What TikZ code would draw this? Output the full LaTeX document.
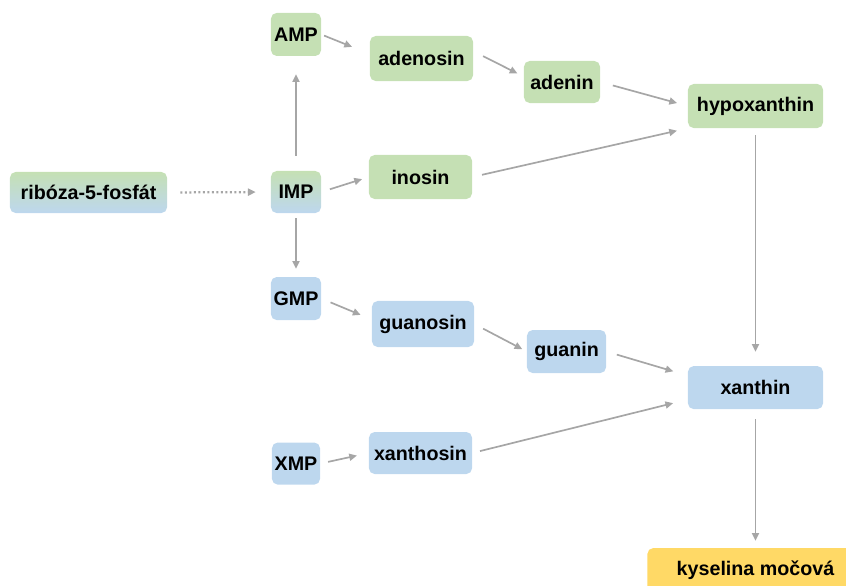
\documentclass[tikz,border=0pt]{standalone}
\usepackage{fontspec}
\setmainfont{Liberation Sans}
\usetikzlibrary{arrows.meta}
\definecolor{boxgreen}{RGB}{197,224,180}
\definecolor{boxblue}{RGB}{189,215,238}
\definecolor{boxyellow}{RGB}{255,217,102}
\definecolor{linegray}{RGB}{166,166,166}
\begin{document}
\begin{tikzpicture}[
x=0.025cm, y=-0.025cm,
basenode/.style={rectangle, rounded corners=4pt, inner sep=0pt, font=\fontsize{14}{16}\selectfont\bfseries},
greennode/.style={basenode, fill=boxgreen},
bluenode/.style={basenode, fill=boxblue},
mixnode/.style={basenode, top color=boxgreen, bottom color=boxblue, middle color=boxgreen!50!boxblue},
yellownode/.style={basenode, fill=boxyellow},
flow/.style={draw=linegray, line width=1.2pt, -{Triangle[length=5.5pt,width=5pt]}},
]
\useasboundingbox (0,0) rectangle (846,585);
\clip (0,0) rectangle (846,585);

%Nodes
\node[mixnode, minimum width=3.925cm, minimum height=1.025cm] (ribose) at (88.5,192.5) {ribóza-5-fosfát};
\node[mixnode, minimum width=1.25cm, minimum height=1.05cm] (IMP) at (296,192) {IMP};
\node[greennode, minimum width=1.25cm, minimum height=1.075cm] (AMP) [above of=IMP, node distance=3.9375cm] {AMP};
\node[bluenode, minimum width=1.25cm, minimum height=1.075cm] (GMP) [below of=IMP, node distance=2.6625cm] {GMP};
\node[bluenode, minimum width=1.2cm, minimum height=1.05cm] (XMP) [below of=GMP, node distance=4.125cm] {XMP};
\node[greennode, minimum width=2.575cm, minimum height=1.125cm] (adenosin) at (421.5,58.5) {adenosin};
\node[greennode, minimum width=1.9cm, minimum height=1.05cm] (adenin) at (562,82) {adenin};
\node[greennode, minimum width=2.575cm, minimum height=1.1cm] (inosin) at (420.5,177) {inosin};
\node[greennode, minimum width=3.375cm, minimum height=1.1cm] (hypoxanthin) at (755.5,106) {hypoxanthin};
\node[bluenode, minimum width=2.55cm, minimum height=1.15cm] (guanosin) at (423,324) {guanosin};
\node[bluenode, minimum width=1.975cm, minimum height=1.075cm] (guanin) at (566.5,351.5) {guanin};
\node[bluenode, minimum width=2.575cm, minimum height=1.05cm] (xanthosin) at (420.5,453) {xanthosin};
\node[bluenode, minimum width=3.375cm, minimum height=1.075cm] (xanthin) [below of=hypoxanthin, node distance=7.0375cm] {xanthin};
\node[yellownode, minimum width=5.4cm, minimum height=1.1cm] (uric) [below of=xanthin, node distance=4.5625cm] {kyselina močová};

%Lines
\draw[flow, line width=1.6pt, dash pattern=on 1.5pt off 1.7pt, shorten <=0.325cm, shorten >=0.375cm] (ribose.east) -- (IMP.west);
\draw[flow, shorten <=0.375cm, shorten >=0.45cm] (IMP.north) -- (AMP.south);
\draw[flow, shorten <=0.125cm, shorten >=0.2cm] (IMP.south) -- (GMP.north);
\draw[flow, shorten <=0.225cm, shorten >=0.175cm] (IMP.east) -- (inosin.west);
\draw[flow, shorten <=0.075cm, shorten >=0.475cm] (AMP.east) -- (adenosin.175);
\draw[flow, shorten <=0.275cm, shorten >=0.175cm] (adenosin.8) -- (adenin.172);
\draw[flow, shorten <=0.325cm, shorten >=0.275cm] (adenin.east) -- (hypoxanthin.west);
\draw[flow, shorten <=0.25cm, shorten >=0.275cm] (inosin.east) -- (hypoxanthin.south west);
\draw[flow, shorten <=0.175cm, shorten >=0.35cm] (hypoxanthin.south) -- (xanthin.north);
\draw[flow, shorten <=0.25cm, shorten >=0.3cm] (GMP.east) -- (guanosin.175);
\draw[flow, shorten <=0.25cm, shorten >=0.125cm] (guanosin.east) -- (guanin.west);
\draw[flow, shorten <=0.275cm, shorten >=0.375cm] (guanin.east) -- (xanthin.170);
\draw[flow, shorten <=0.2cm, shorten >=0.375cm] (xanthosin.east) -- (xanthin.190);
\draw[flow, shorten <=0.2cm, shorten >=0.3cm] (XMP.east) -- (xanthosin.west);
\draw[flow, shorten <=0.25cm, shorten >=0.175cm] (xanthin.south) -- (uric.north);
\end{tikzpicture}
\end{document}
